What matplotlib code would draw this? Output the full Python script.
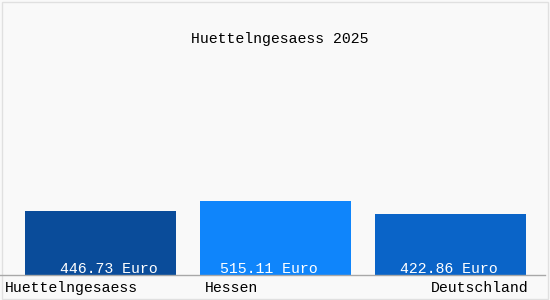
import matplotlib.pyplot as plt
from matplotlib.patches import Rectangle

# data
title = "Huettelngesaess 2025"
regions = ["Huettelngesaess", "Hessen", "Deutschland"]
values = [446.73, 515.11, 422.86]
colors = ["#0a4c9a", "#0f85fb", "#0a64c8"]

plt.rcParams['font.family'] = ['Liberation Mono', 'DejaVu Sans Mono']
FS = 10.7

fig = plt.figure(figsize=(5.5, 3.0), dpi=100, facecolor='#f9f9f9')
# axis: bottom at pixel row 275, 0.1435 px per euro
ax = fig.add_axes([0, 25 / 300, 1, 275 / 300])
ax.set_xlim(0, 550)
ax.set_ylim(0, 275 / 0.1435)
ax.axis('off')

xs = [100.5 + 175 * i for i in range(len(values))]
ax.bar(xs, values, width=151, color=colors, zorder=2)

# value labels inside bars (slightly off-centre like the original)
label_dx = [8, -7, -2]
for x, v, dx in zip(xs, values, label_dx):
    ax.annotate(f"{v:.2f} Euro", xy=(x, 0), xytext=(dx, 2), textcoords='offset pixels',
                ha='center', va='baseline', color='white', fontsize=FS, zorder=3)

# baseline
fig.add_artist(plt.Line2D([0, 545 / 550], [25 / 300, 25 / 300], color='#a8a8a8', lw=1))

# category labels below the baseline
fig.text(5 / 550, 1 - 292 / 300, regions[0], ha='left', va='baseline', fontsize=FS)
fig.text(205 / 550, 1 - 292 / 300, regions[1], ha='left', va='baseline', fontsize=FS)
fig.text(528 / 550, 1 - 292 / 300, regions[2], ha='right', va='baseline', fontsize=FS)

fig.text(280 / 550, 1 - 43.5 / 300, title, ha='center', va='baseline', fontsize=FS)

# light frame
fig.add_artist(Rectangle((1.5 / 550, 1.5 / 300), 546 / 550, 297 / 300, transform=fig.transFigure,
                         fill=False, edgecolor='#e0e0e0', lw=1))

fig.savefig('out.png', dpi=100, facecolor=fig.get_facecolor())
